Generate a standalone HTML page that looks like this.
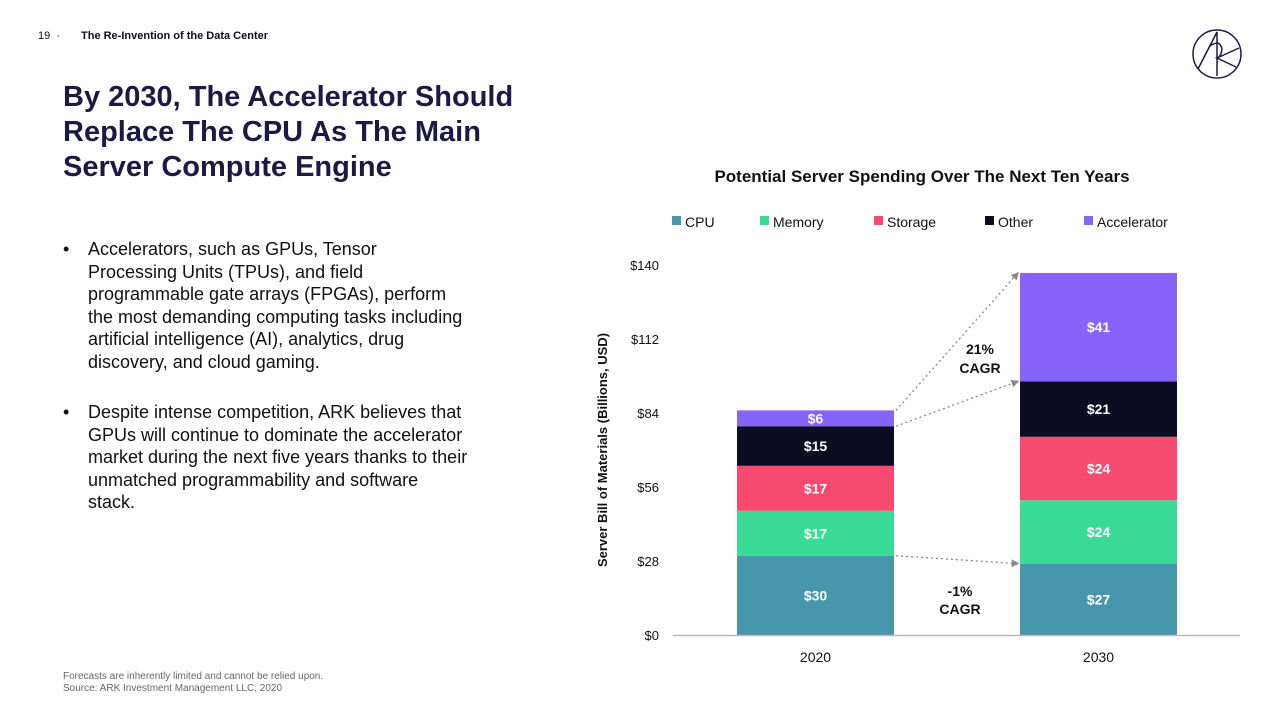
<!DOCTYPE html>
<html><head><meta charset="utf-8">
<style>
body{margin:0;width:1280px;height:720px;background:#fff;font-family:"Liberation Sans",sans-serif;color:#0c0c26;position:relative;overflow:hidden}
.abs{position:absolute}
h1{position:absolute;left:63px;top:80px;margin:0;font-size:29px;line-height:35px;font-weight:bold;color:#1c1a45;width:480px}
ul{position:absolute;left:63px;top:238px;margin:0;padding:0;list-style:none;width:405px;font-size:18px;line-height:22.5px;color:#111}
li{position:relative;padding-left:25px;margin-bottom:28px}
li:before{content:"•";position:absolute;left:0}
</style></head><body>
<div class="abs" style="left:38px;top:30px;font-size:11px">19 &nbsp;·</div>
<div class="abs" style="left:81px;top:30px;font-size:11px;font-weight:bold">The Re-Invention of the Data Center</div>
<svg class="abs" style="left:1190px;top:27px" width="54" height="54" viewBox="0 0 54 54"><g fill="none" stroke="#1c1a45" stroke-width="1.5"><circle cx="27" cy="27" r="24"/><path d="M8 42 L27 5 L27 49 M20 19 Q30 12 32 22 Q31 30 27 31 L46 40 M27 31 L49 21"/></g></svg>
<h1>By 2030, The Accelerator Should Replace The CPU As The Main Server Compute Engine</h1>
<ul>
<li>Accelerators, such as GPUs, Tensor Processing Units (TPUs), and field programmable gate arrays (FPGAs), perform the most demanding computing tasks including artificial intelligence (AI), analytics, drug discovery, and cloud gaming.</li>
<li>Despite intense competition, ARK believes that GPUs will continue to dominate the accelerator market during the next five years thanks to their unmatched programmability and software stack.</li>
</ul>
<div class="abs" style="left:63px;top:671px;font-size:10px;line-height:12px;color:#666">Forecasts are inherently limited and cannot be relied upon.<br>Source: ARK Investment Management LLC, 2020</div>
<svg class="abs" id="chart" style="left:0;top:0" width="1280" height="720"></svg>
<script>
const categories=["2020","2030"];
const seriesNames=["CPU","Memory","Storage","Other","Accelerator"];
const cpu=[30,27];
const memory=[17,24];
const storage=[17,24];
const other=[15,21];
const accelerator=[6,41];
const yTicks=[0,28,56,84,112,140];
const colors=["#4697ab","#3adb96","#f64a6e","#0c0c22","#8663f9"];
const series=[cpu,memory,storage,other,accelerator];
const svg=document.getElementById('chart');const NS='http://www.w3.org/2000/svg';
const y0=635,y1=265,yMax=140;
const y=v=>y0-(v/yMax)*(y0-y1);
const barX=[737,1020],barW=157;
const x=i=>barX[i];
function el(t,a,txt){const e=document.createElementNS(NS,t);for(const k in a)e.setAttribute(k,a[k]);if(txt!=null)e.textContent=txt;svg.appendChild(e);return e;}
let t=el('text',{x:922,y:182,'text-anchor':'middle','font-size':17,'font-weight':'bold',fill:'#111'},'Potential Server Spending Over The Next Ten Years');


const legX=[672,760,874,985,1084];
seriesNames.forEach((n,i)=>{
 let r=el('rect',{x:legX[i],y:216,width:9,height:9,fill:colors[i]});
 
 
 let tx=el('text',{x:legX[i]+13,y:227,'font-size':14,fill:'#111'},n);
 
 
});
yTicks.forEach(v=>{
 let tx=el('text',{x:659,y:y(v)+5,'text-anchor':'end','font-size':13,fill:'#111'},'$'+v);
 
 
});
let yt=el('text',{transform:'translate(607,450) rotate(-90)','text-anchor':'middle','font-size':13,'font-weight':'bold',fill:'#111'},'Server Bill of Materials (Billions, USD)');


categories.forEach((c,i)=>{
 let acc=0;
 series.forEach((s,j)=>{
  const v=s[i];
  let r=el('rect',{x:x(i),y:y(acc+v),width:barW,height:y(acc)-y(acc+v),fill:colors[j]});
  
  
  let lt=el('text',{x:x(i)+barW/2,y:(y(acc)+y(acc+v))/2+5,'text-anchor':'middle','font-size':14,'font-weight':'bold',fill:'#fff'},'$'+v);
  
  
  acc+=v;
 });
 let ct=el('text',{x:x(i)+barW/2,y:662,'text-anchor':'middle','font-size':14,fill:'#111'},c);
 
 
});
let ax=el('line',{x1:673,x2:1240,y1:y0+0.5,y2:y0+0.5,stroke:'#bbb','stroke-width':1.5});


el('defs',{}).innerHTML='<marker id="ah" markerWidth="6" markerHeight="6" refX="5" refY="3" orient="auto"><path d="M0,0 L6,3 L0,6z" fill="#888"/></marker>';
const tot=i=>series.reduce((a,s)=>a+s[i],0);
const arrowPts=[[y(tot(0)),y(tot(1))],[y(tot(0)-accelerator[0]),y(tot(1)-accelerator[1])],[y(cpu[0]),y(cpu[1])]];
arrowPts.forEach((p,k)=>{
 let l=el('line',{x1:x(0)+barW+2,y1:p[0],x2:x(1)-2,y2:p[1],stroke:'#888','stroke-width':1.3,'stroke-dasharray':'2,3','marker-end':'url(#ah)'});
 
 
});
[[980,354,'21%'],[980,373,'CAGR'],[960,596,'-1%'],[960,614,'CAGR']].forEach((a,k)=>{
 let tx=el('text',{x:a[0],y:a[1],'text-anchor':'middle','font-size':14,'font-weight':'bold',fill:'#111'},a[2]);
 
 
});
</script>
</body></html>
